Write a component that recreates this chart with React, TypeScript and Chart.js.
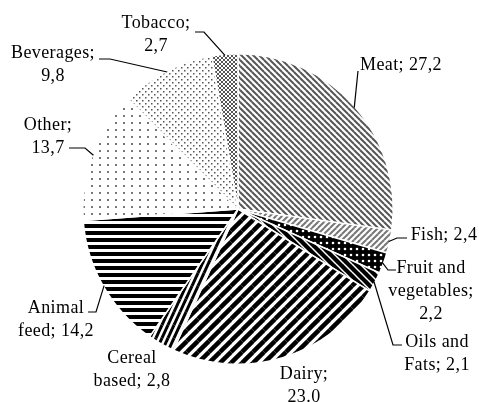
import React, { useEffect, useRef } from "react";
import { Chart, registerables } from "chart.js";

Chart.register(...registerables);

const categories = [
  "Meat",
  "Fish",
  "Fruit and vegetables",
  "Oils and Fats",
  "Dairy",
  "Cereal based",
  "Animal feed",
  "Other",
  "Beverages",
  "Tobacco",
];
const values = [27.2, 2.4, 2.2, 2.1, 23.0, 2.8, 14.2, 13.7, 9.8, 2.7];
const labelLines = [
  ["Meat; 27,2"],
  ["Fish; 2,4"],
  ["Fruit and", "vegetables;", "2,2"],
  ["Oils and", "Fats; 2,1"],
  ["Dairy;", "23.0"],
  ["Cereal", "based; 2,8"],
  ["Animal", "feed; 14,2"],
  ["Other;", "13,7"],
  ["Beverages;", "9,8"],
  ["Tobacco;", "2,7"],
];

// label layout: centre x, first-line centre y, leader path (after arc point)
const labelPos: { x: number; y: number; leader: number[][] | null }[] = [
  { x: 401, y: 65, leader: [[358, 71]] },
  { x: 444, y: 235, leader: [[397, 238], [407, 238]] },
  { x: 431, y: 268, leader: [[388, 270], [396, 270]] },
  { x: 437, y: 342, leader: [[393, 345], [402, 345]] },
  { x: 304, y: 374, leader: null },
  { x: 132, y: 358, leader: null },
  { x: 56, y: 308, leader: [[96, 312], [88, 312]] },
  { x: 48, y: 125, leader: [[85, 148], [69, 148]] },
  { x: 53, y: 53, leader: [[110, 59], [99, 59]] },
  { x: 156, y: 23, leader: [[204, 32], [195, 32]] },
];

function tile(w: number, h: number, draw: (c: CanvasRenderingContext2D) => void) {
  const cv = document.createElement("canvas");
  cv.width = w;
  cv.height = h;
  const c = cv.getContext("2d")!;
  draw(c);
  return c.createPattern(cv, "repeat")!;
}

function lines(
  w: number,
  h: number,
  bg: string,
  fg: string,
  lw: number,
  dir: "/" | "\\"
) {
  return tile(w, h, (c) => {
    c.fillStyle = bg;
    c.fillRect(0, 0, w, h);
    c.strokeStyle = fg;
    c.lineWidth = lw;
    for (const dx of [-w, 0, w]) {
      for (const dy of [-h, 0, h]) {
        c.beginPath();
        if (dir === "/") {
          c.moveTo(dx, dy + h);
          c.lineTo(dx + w, dy);
        } else {
          c.moveTo(dx, dy);
          c.lineTo(dx + w, dy + h);
        }
        c.stroke();
      }
    }
  });
}

function dots(w: number, h: number, bg: string, fg: string, pts: number[][], s: number) {
  return tile(w, h, (c) => {
    c.fillStyle = bg;
    c.fillRect(0, 0, w, h);
    c.fillStyle = fg;
    for (const [x, y] of pts) c.fillRect(x, y, s, s);
  });
}

function makePatterns() {
  const meat = lines(6, 6, "#fff", "#555", 2, "\\");
  const fish = lines(6, 6, "#fff", "#777", 2, "/");
  const fruit = tile(6, 6, (c) => {
    c.fillStyle = "#000";
    c.fillRect(0, 0, 6, 6);
    c.fillStyle = "#fff";
    c.beginPath();
    c.arc(3, 3, 1.3, 0, Math.PI * 2);
    c.fill();
  });
  const oils = lines(8, 8, "#000", "#fff", 1.5, "\\");
  const dairy = lines(11, 11, "#fff", "#000", 4.5, "/");
  const cereal = lines(6, 13, "#fff", "#000", 3, "/");
  const animal = tile(7, 7, (c) => {
    c.fillStyle = "#fff";
    c.fillRect(0, 0, 7, 7);
    c.fillStyle = "#000";
    c.fillRect(0, 0, 7, 4);
  });
  const other = dots(8, 7, "#fff", "#777", [[3, 3]], 2);
  const bev = dots(6, 6, "#fff", "#555", [[1, 1], [4, 4]], 1.5);
  const tob = tile(4, 4, (c) => {
    c.fillStyle = "#fff";
    c.fillRect(0, 0, 4, 4);
    c.strokeStyle = "#555";
    c.lineWidth = 1;
    for (const d of [-4, 0, 4]) {
      c.beginPath();
      c.moveTo(d, 0);
      c.lineTo(d + 4, 4);
      c.stroke();
      c.beginPath();
      c.moveTo(d, 4);
      c.lineTo(d + 4, 0);
      c.stroke();
    }
  });
  return [meat, fish, fruit, oils, dairy, cereal, animal, other, bev, tob];
}

const labelPlugin = {
  id: "pieLabels",
  afterDraw(chart: any) {
    const ctx = chart.ctx as CanvasRenderingContext2D;
    const meta = chart.getDatasetMeta(0);
    ctx.save();
    ctx.strokeStyle = "#000";
    ctx.lineWidth = 1.2;
    meta.data.forEach((arc: any, i: number) => {
      const p = labelPos[i];
      if (p.leader) {
        const mid = (arc.startAngle + arc.endAngle) / 2;
        const r = arc.outerRadius - 1;
        ctx.beginPath();
        ctx.moveTo(arc.x + Math.cos(mid) * r, arc.y + Math.sin(mid) * r);
        for (const [x, y] of p.leader) ctx.lineTo(x, y);
        ctx.stroke();
      }
    });
    ctx.fillStyle = "#000";
    ctx.font = '18px "Liberation Serif", "Times New Roman", serif';
    (ctx as any).letterSpacing = "0.4px";
    ctx.textAlign = "center";
    ctx.textBaseline = "middle";
    labelLines.forEach((ls, i) => {
      const p = labelPos[i];
      ls.forEach((t, j) => ctx.fillText(t, p.x, p.y + j * 23));
    });
    ctx.restore();
  },
};

export default function App() {
  const ref = useRef<HTMLCanvasElement>(null);
  useEffect(() => {
    document.body.style.margin = "0";
    const chart = new Chart(ref.current!, {
      type: "pie",
      data: {
        labels: categories,
        datasets: [
          {
            data: values,
            backgroundColor: makePatterns() as any,
            borderColor: "#fff",
            borderWidth: 1.5,
          },
        ],
      },
      options: {
        animation: false,
        responsive: false,
        layout: { padding: { left: 82, right: 85, top: 53, bottom: 37 } },
        plugins: {
          legend: { display: false },
          tooltip: { enabled: false },
        },
      },
      plugins: [labelPlugin],
    });
    return () => chart.destroy();
  }, []);
  return (
    <div style={{ width: 479, height: 402, background: "#fff" }}>
      <canvas ref={ref} width={479} height={402} style={{ display: "block" }} />
    </div>
  );
}
